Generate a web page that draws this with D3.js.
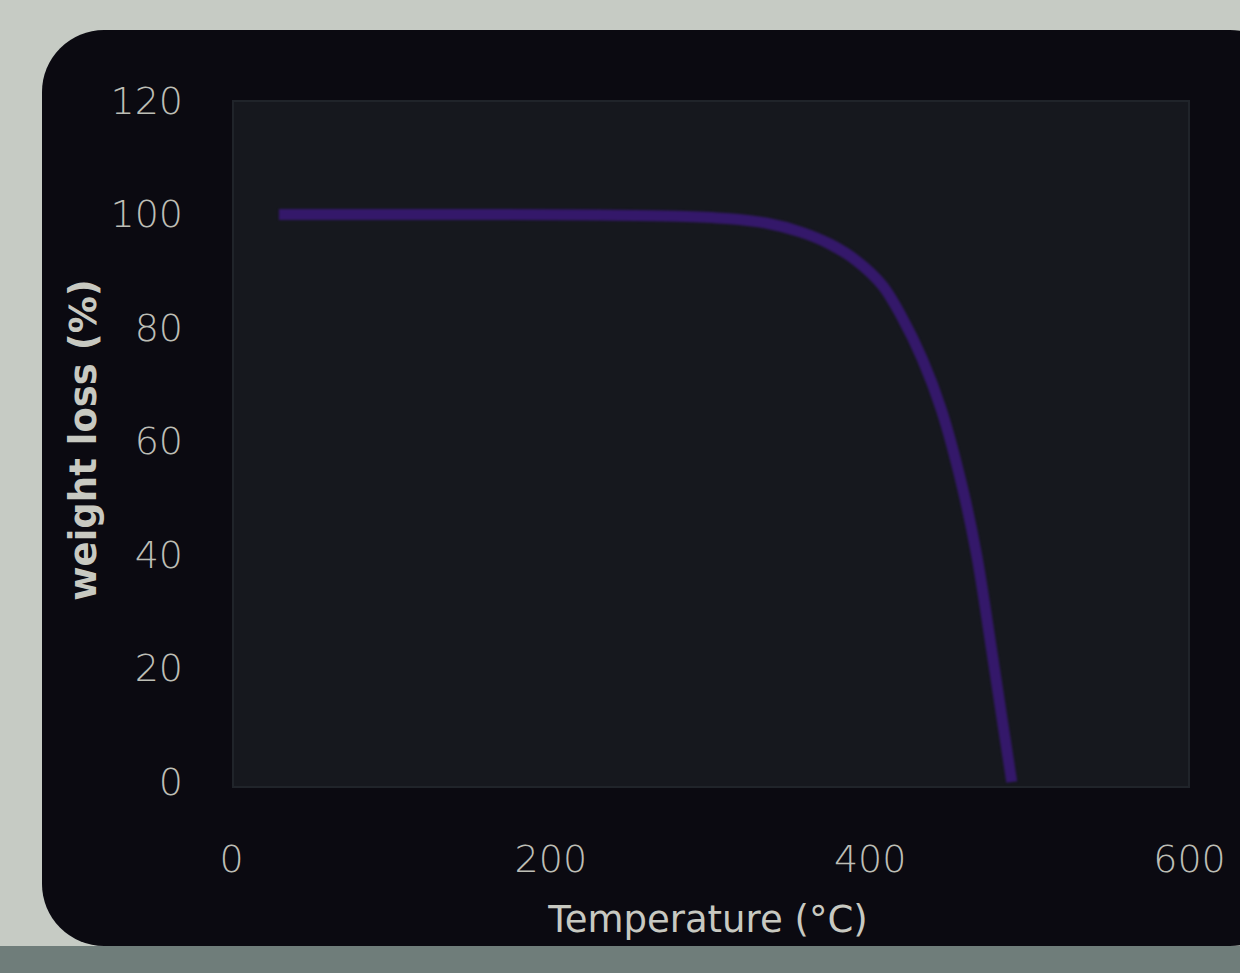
<!DOCTYPE html>
<head>
<style>
  body { margin: 0; background: #c6cbc4; overflow: hidden; }
  text { font-family: "DejaVu Sans", sans-serif; }
</style>
</head>
<body>
<script src="https://d3js.org/d3.v7.min.js"></script>
<script>
// TGA curve
const temperature = [30, 100, 170, 230, 280, 310, 335, 357, 375, 392, 408, 420, 433, 445, 458, 467, 476, 483, 489];
const weight      = [100, 100, 100, 99.9, 99.7, 99.3, 98.5, 96.9, 94.8, 91.8, 87.5, 82, 74.5, 65.5, 52, 40, 24, 11, 0];
const x_ticks = [0, 200, 400, 600];
const y_ticks = [0, 20, 40, 60, 80, 100, 120];

let svg_w = 1240, svg_h = 973;
let svg = d3.select("body").append("svg")
    .attr("width", svg_w)
    .attr("height", svg_h);

// backdrop: wall + bottom bezel strip
svg.append("rect").attr("width", svg_w).attr("height", svg_h).attr("fill", "#c6cbc4");
svg.append("rect").attr("x", 0).attr("y", 946).attr("width", svg_w).attr("height", 27).attr("fill", "#6f7d7a");

// dark screen panel
svg.append("rect")
    .attr("x", 42).attr("y", 30)
    .attr("width", 1250).attr("height", 916)
    .attr("rx", 62)
    .attr("fill", "#0b0a11");

let x_scale = d3.scaleLinear().domain([0, 600]).range([231, 1189]);
let y_scale = d3.scaleLinear().domain([0, 120]).range([782, 101]);

// plot area
svg.append("rect")
    .attr("x", x_scale(0) + 2).attr("y", y_scale(120))
    .attr("width", x_scale(600) - x_scale(0) - 2)
    .attr("height", y_scale(0) - y_scale(120) + 5)
    .attr("fill", "#16181e")
    .attr("stroke", "#20242a")
    .attr("stroke-width", 2);

// curve
svg.append("path")
    .datum(d3.zip(temperature, weight))
    .attr("fill", "none")
    .attr("stroke", "#34186a")
    .attr("stroke-width", 11)
    .style("filter", "blur(1.3px)")
    .attr("d", d3.line()
        .x(d => x_scale(d[0]))
        .y(d => y_scale(d[1]))
        .curve(d3.curveCatmullRom));

// axes
let x_axis = d3.axisBottom(x_scale).tickValues(x_ticks).tickSize(0).tickPadding(58);
let y_axis = d3.axisLeft(y_scale).tickValues(y_ticks).tickSize(0).tickPadding(48);

svg.append("g")
    .attr("transform", "translate(0," + (y_scale(0) + 5) + ")")
    .call(x_axis)
    .call(g => g.select(".domain").remove())
    .selectAll("text")
    .attr("fill", "#bdbeb6")
    .style("font-size", "38px")
    .style("font-weight", "300");

svg.append("g")
    .attr("transform", "translate(" + x_scale(0) + ",0)")
    .call(y_axis)
    .call(g => g.select(".domain").remove())
    .selectAll("text")
    .attr("fill", "#bdbeb6")
    .style("font-size", "38px")
    .style("font-weight", "300");

// axis titles
svg.append("text")
    .text("Temperature (°C)")
    .attr("x", 708).attr("y", 932)
    .attr("text-anchor", "middle")
    .attr("fill", "#c8c9c1")
    .style("font-size", "37px");

svg.append("text")
    .text("weight loss (%)")
    .attr("text-anchor", "middle")
    .attr("fill", "#c8c9c1")
    .style("font-size", "37px")
    .style("font-weight", "bold")
    .attr("transform", "translate(96,440)rotate(-90)");
</script>
</body>
